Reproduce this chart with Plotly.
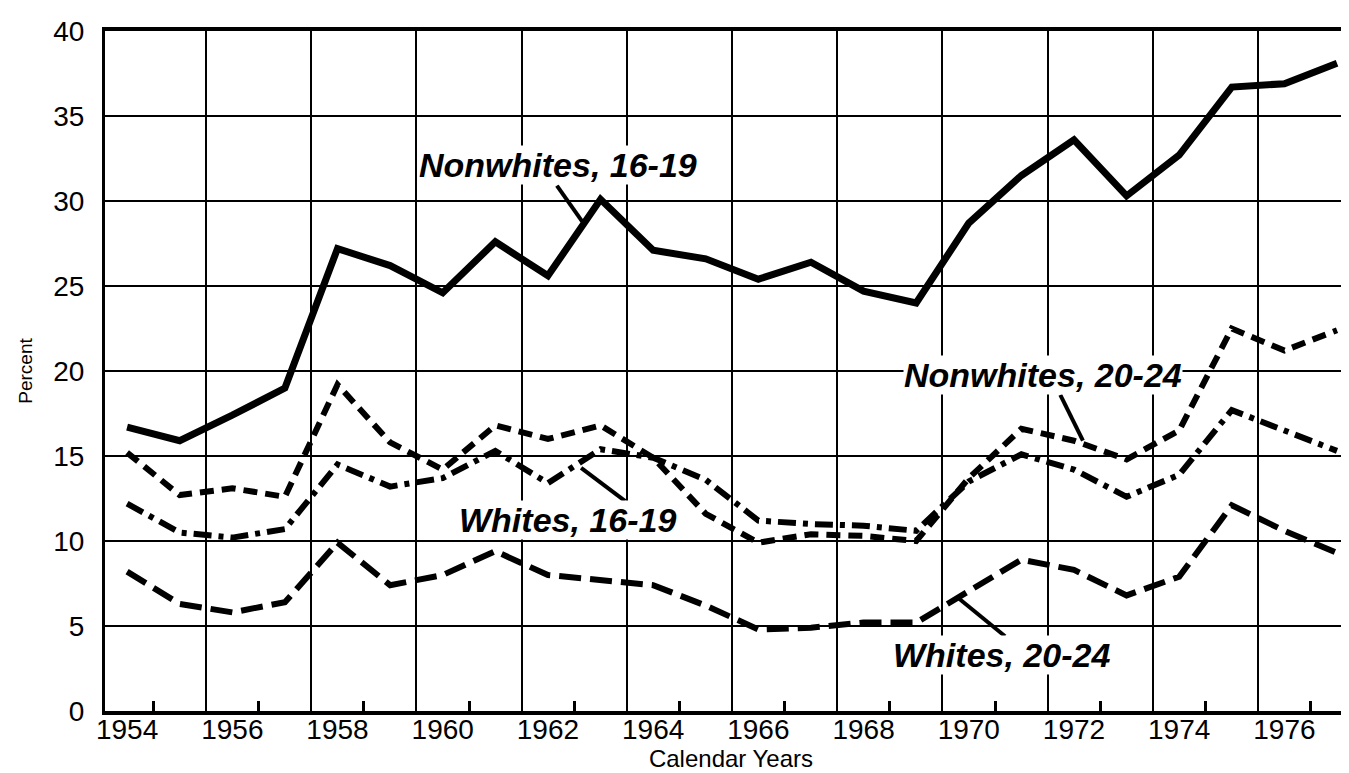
import plotly.graph_objects as go

years = list(range(1954, 1978))
nonwhites_16_19 = [16.7, 15.9, 17.4, 19.0, 27.2, 26.2, 24.6, 27.6, 25.6, 30.1, 27.1, 26.6,
                   25.4, 26.4, 24.7, 24.0, 28.7, 31.5, 33.6, 30.3, 32.7, 36.7, 36.9, 38.1]
nonwhites_20_24 = [15.2, 12.7, 13.1, 12.6, 19.2, 15.8, 14.2, 16.8, 16.0, 16.8, 14.9, 11.6,
                   9.9, 10.4, 10.3, 10.0, 13.7, 16.6, 15.9, 14.8, 16.5, 22.5, 21.2, 22.4]
whites_16_19 = [12.2, 10.5, 10.2, 10.7, 14.5, 13.2, 13.7, 15.3, 13.4, 15.4, 14.9, 13.6,
                11.2, 11.0, 10.9, 10.6, 13.5, 15.1, 14.2, 12.6, 13.9, 17.7, 16.5, 15.3]
whites_20_24 = [8.2, 6.3, 5.8, 6.4, 9.9, 7.4, 8.0, 9.4, 8.0, 7.7, 7.4, 6.2,
                4.8, 4.9, 5.2, 5.2, 7.1, 8.9, 8.3, 6.8, 7.9, 12.1, 10.6, 9.3]

label_years = list(range(1954, 1977, 2))
label_text = [str(y) for y in label_years]
grid_years = [y + 0.5 for y in range(1955, 1976, 2)]
minor_tick_years = [y + 0.5 for y in range(1954, 1977, 2)]
y_ticks = list(range(0, 41, 5))

# series labels: (text, x, y)
series_labels = [
    ("Nonwhites, 16-19", 1962.19, 32.1),
    ("Whites, 16-19", 1962.38, 11.24),
    ("Nonwhites, 20-24", 1971.41, 19.76),
    ("Whites, 20-24", 1970.63, 3.29),
]
# leader lines: (x0, y0, x1, y1)
leaders = [
    (1962.17, 30.9, 1962.65, 28.8),
    (1962.63, 14.3, 1963.47, 12.35),
    (1971.74, 18.6, 1972.17, 15.9),
    (1969.80, 6.65, 1970.69, 4.4),
]

fig = go.Figure()
fig.add_trace(go.Scatter(x=years, y=nonwhites_16_19, mode="lines",
                         line=dict(color="black", width=7), name="Nonwhites, 16-19"))
fig.add_trace(go.Scatter(x=years, y=nonwhites_20_24, mode="lines",
                         line=dict(color="black", width=6, dash="14px,8px"), name="Nonwhites, 20-24"))
fig.add_trace(go.Scatter(x=years, y=whites_16_19, mode="lines",
                         line=dict(color="black", width=6, dash="18px,7px,5px,7px"), name="Whites, 16-19"))
fig.add_trace(go.Scatter(x=years, y=whites_20_24, mode="lines", xaxis="x2",
                         line=dict(color="black", width=6, dash="22px,9px"), name="Whites, 20-24"))

for x0, y0, x1, y1 in leaders:
    fig.add_shape(type="line", x0=x0, y0=y0, x1=x1, y1=y1, xref="x", yref="y",
                  line=dict(color="black", width=4))

lab_font = dict(family="Liberation Sans, Arial, sans-serif",
                size=34, color="black", weight="bold", style="italic")
for text, x, y in series_labels:
    fig.add_annotation(x=x, y=y, xref="x", yref="y", text=text, showarrow=False,
                       font=lab_font, bgcolor="white", borderpad=0)

tick_font = dict(family="Liberation Sans, Arial, sans-serif", size=28, color="black")
xr = [1953.58, 1977.38]
fig.update_layout(
    width=1349, height=773,
    margin=dict(l=97, r=0, t=23, b=70),
    paper_bgcolor="white", plot_bgcolor="white",
    showlegend=False,
    xaxis=dict(
        range=xr, tickmode="array", tickvals=label_years, ticktext=label_text,
        ticks="", showgrid=False, zeroline=False,
        showline=True, linecolor="black", linewidth=4, mirror=True,
        tickfont=tick_font, ticklabelstandoff=-10,
        minor=dict(tickmode="array", tickvals=minor_tick_years, ticks="inside",
                   ticklen=10, tickwidth=3, tickcolor="black", showgrid=False),
        title=dict(text="Calendar Years", font=dict(family="Liberation Sans, Arial, sans-serif",
                                                     size=24, color="black"), standoff=0),
    ),
    xaxis2=dict(
        range=xr, matches="x", overlaying="x", tickmode="array", tickvals=grid_years,
        showticklabels=False, ticks="", showgrid=True, gridcolor="black", gridwidth=2,
        showline=False, zeroline=False,
    ),
    yaxis=dict(
        range=[0, 40], tickmode="array", tickvals=y_ticks, ticks="",
        showgrid=True, gridcolor="black", gridwidth=2, zeroline=False,
        showline=True, linecolor="black", linewidth=3,
        tickfont=tick_font, ticklabelstandoff=12,
        title=dict(text="Percent", font=dict(family="Liberation Sans, Arial, sans-serif",
                                              size=19, color="black"), standoff=16),
    ),
)

fig.write_html("out.html")
